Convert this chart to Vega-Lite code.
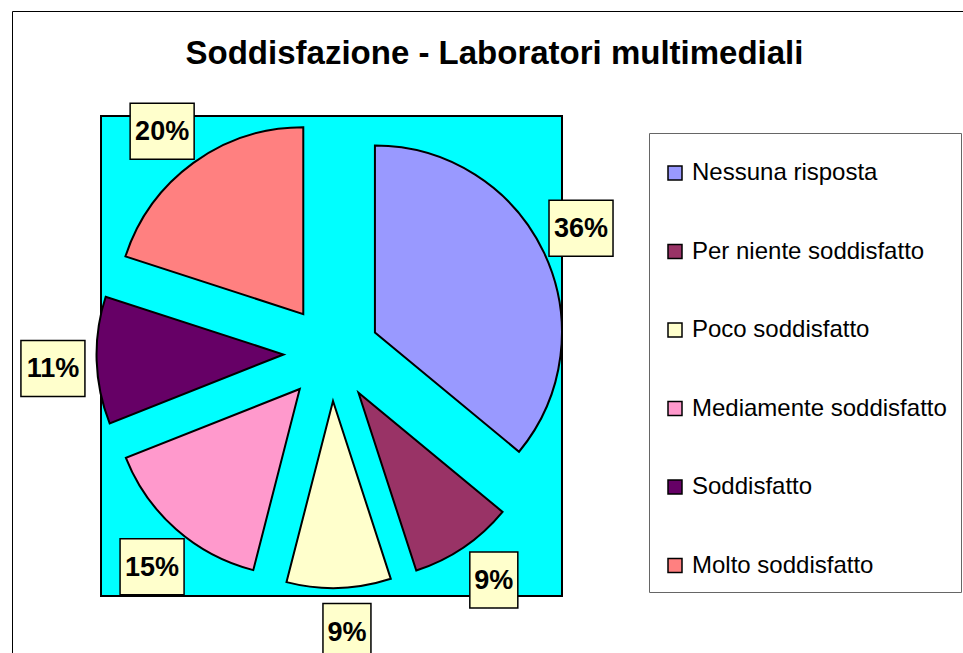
{
  "$schema": "https://vega.github.io/schema/vega-lite/v6.json",
  "width": 461,
  "height": 480,
  "autosize": {"type": "none"},
  "padding": {"left": 101, "top": 116, "right": 401, "bottom": 57},
  "background": "white",
  "view": {"fill": "#00FFFF", "stroke": "black", "strokeWidth": 2},
  "title": {
    "text": "Soddisfazione - Laboratori multimediali",
    "font": "Liberation Sans",
    "fontSize": 33,
    "fontWeight": "bold",
    "color": "black",
    "anchor": "middle",
    "baseline": "alphabetic",
    "dx": 163,
    "offset": -86
  },
  "data": {
    "values": [
      {"category": "Nessuna risposta", "share": 0.36},
      {"category": "Per niente soddisfatto", "share": 0.09},
      {"category": "Poco soddisfatto", "share": 0.09},
      {"category": "Mediamente soddisfatto", "share": 0.15},
      {"category": "Soddisfatto", "share": 0.11},
      {"category": "Molto soddisfatto", "share": 0.20}
    ]
  },
  "transform": [
    {"stack": "share", "groupby": [], "as": ["s0", "s1"]}
  ],
  "layer": [
    {
      "mark": {
        "type": "arc",
        "outerRadius": 187,
        "stroke": "black",
        "strokeWidth": 2,
        "xOffset": {"expr": "48*sin(scale('theta',(datum.s0+datum.s1)/2))"},
        "yOffset": {"expr": "-3-48*cos(scale('theta',(datum.s0+datum.s1)/2))"}
      },
      "encoding": {
        "theta": {"field": "s0", "type": "quantitative", "scale": {"domain": [0, 1]}},
        "theta2": {"field": "s1"},
        "color": {
          "field": "category",
          "type": "nominal",
          "scale": {
            "domain": ["Nessuna risposta", "Per niente soddisfatto", "Poco soddisfatto", "Mediamente soddisfatto", "Soddisfatto", "Molto soddisfatto"],
            "range": ["#9999FF", "#993366", "#FFFFCC", "#FF99CC", "#660066", "#FF8080"]
          },
          "legend": {
            "orient": "none",
            "legendX": 548,
            "legendY": 17,
            "title": " ",
            "titleFontSize": 14,
            "titlePadding": 0,
            "symbolType": "square",
            "symbolSize": 196,
            "symbolStrokeColor": "black",
            "symbolStrokeWidth": 1.5,
            "symbolOpacity": 1,
            "labelFont": "Liberation Sans",
            "labelFontSize": 24,
            "labelColor": "black",
            "labelOffset": 5,
            "labelLimit": 400,
            "rowPadding": 54.5,
            "padding": 14,
            "strokeColor": "#666666",
            "fillColor": "white"
          }
        }
      }
    },
    {
      "mark": {
        "type": "point",
        "filled": true,
        "fill": "#FFFFCC",
        "stroke": "black",
        "strokeWidth": 1.5,
        "opacity": 1,
        "size": 3136,
        "xOffset": {"expr": "279*sin(scale('theta',(datum.s0+datum.s1)/2)-0.024)"},
        "yOffset": {"expr": "-3-279*cos(scale('theta',(datum.s0+datum.s1)/2)-0.024)"}
      },
      "encoding": {
        "shape": {
          "condition": {"test": "datum.share < 0.1", "value": "M-0.857,-1H0.857V1H-0.857Z"},
          "value": "M-1.143,-1H1.143V1H-1.143Z"
        },
        "strokeDash": {
          "datum": "frame",
          "scale": {"range": [[1, 0]]},
          "legend": {
            "orient": "none",
            "legendX": -89,
            "legendY": -105,
            "title": null,
            "padding": 500,
            "strokeColor": "black",
            "symbolOpacity": 0,
            "symbolStrokeWidth": 0,
            "labelOpacity": 0,
            "labelFontSize": 1
          }
        }
      }
    },
    {
      "mark": {
        "type": "text",
        "font": "Liberation Sans",
        "fontSize": 27,
        "fontWeight": "bold",
        "fill": "black",
        "align": "center",
        "baseline": "middle",
        "xOffset": {"expr": "279*sin(scale('theta',(datum.s0+datum.s1)/2)-0.024)"},
        "yOffset": {"expr": "-2-279*cos(scale('theta',(datum.s0+datum.s1)/2)-0.024)"}
      },
      "encoding": {
        "text": {"field": "share", "type": "quantitative", "format": ".0%"}
      }
    }
  ]
}
